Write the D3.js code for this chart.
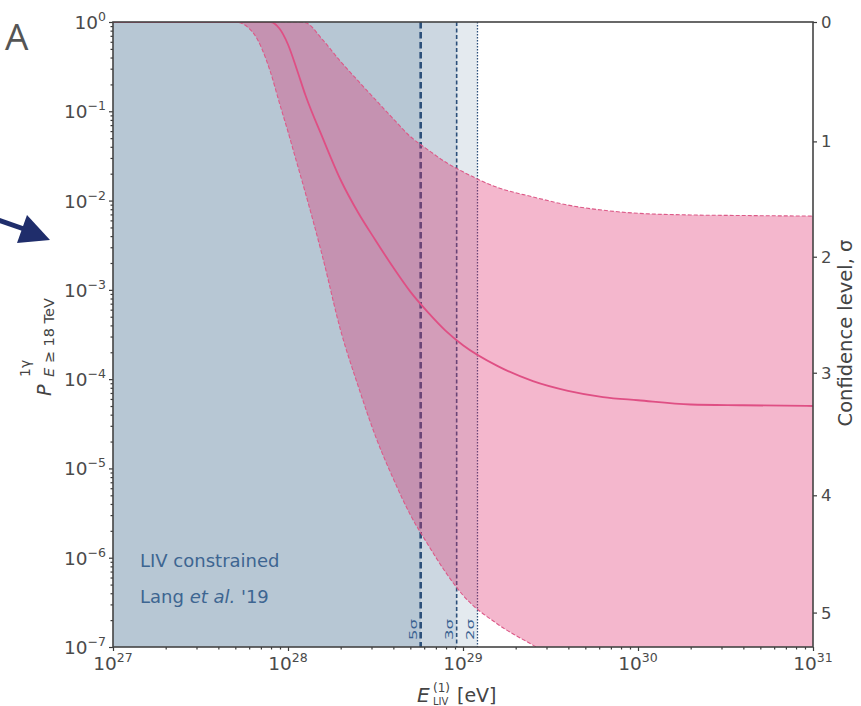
<!DOCTYPE html>
<html>
<head>
<meta charset="utf-8">
<script src="https://cdn.jsdelivr.net/npm/d3@7"></script>
<style>
  html, body { margin: 0; padding: 0; background: #fff; }
  svg { display: block; }
</style>
</head>
<body>
<svg id="chart" width="861" height="706"></svg>
<script>
// LIV break energy (eV) grid
const energy = [1e27, 3.16e27, 5.01e27, 6.31e27, 7.94e27, 8.91e27,
  1e28, 1.12e28, 1.26e28, 1.58e28, 2.0e28, 2.51e28, 3.16e28, 3.98e28, 5.01e28, 6.31e28, 7.94e28,
  1e29, 1.58e29, 2.51e29, 3.98e29, 6.31e29,
  1e30, 2.0e30, 3.98e30, 1e31];

// probability of one photon above 18 TeV: lower edge, median, upper edge
const pLower = [1, 1, 1, 0.76, 0.275, 0.126,
  0.059, 0.027, 0.012, 2.3e-3, 3.5e-4, 8.5e-5, 2.3e-5, 7.8e-6, 3.0e-6, 1.4e-6, 6.9e-7,
  3.8e-7, 1.8e-7, 1.05e-7, 6.3e-8, 4.0e-8,
  2.8e-8, 1.7e-8, 1.2e-8, 8e-9];
const pMedian = [1, 1, 1, 1, 1, 0.85,
  0.56, 0.30, 0.15, 0.050, 0.017, 7.4e-3, 3.6e-3, 1.8e-3, 9.5e-4, 5.6e-4, 3.5e-4,
  2.4e-4, 1.4e-4, 9.5e-5, 7.4e-5, 6.3e-5,
  5.8e-5, 5.2e-5, 5.1e-5, 5.0e-5];
const pUpper = [1, 1, 1, 1, 1, 1,
  1, 1, 0.98, 0.63, 0.36, 0.22, 0.135, 0.083, 0.052, 0.037, 0.027,
  0.021, 0.014, 0.011, 8.9e-3, 7.8e-3,
  7.2e-3, 6.9e-3, 6.8e-3, 6.7e-3];

// existing LIV limits (Lang et al. '19)
const limitLabels = ["5σ", "3σ", "2σ"];
const limitEnergy = [5.73e28, 9.2e28, 1.21e29];

// right axis: confidence level and matching probability
const sigmaLevels = [0, 1, 2, 3, 4, 5];
const sigmaProb = [1, 0.046, 2.35e-3, 1.18e-4, 5.0e-6, 2.43e-7];

// axis tick exponents
const xExponents = [27, 28, 29, 30, 31];
const yExponents = [0, -1, -2, -3, -4, -5, -6, -7];

const svg = d3.select("#chart");
const L = 113, R = 813, T = 22, B = 647;
const FONT = "DejaVu Sans";

const x = d3.scaleLog().domain([1e27, 1e31]).range([L, R]);
const y = d3.scaleLog().domain([1e-7, 1]).range([B, T]);

svg.append("defs").append("clipPath").attr("id", "plotclip")
  .append("rect").attr("x", L).attr("y", T).attr("width", R - L).attr("height", B - T);

const plot = svg.append("g").attr("clip-path", "url(#plotclip)");

// excluded regions, one translucent layer per limit
limitEnergy.forEach(e => {
  plot.append("rect")
    .attr("x", L).attr("y", T)
    .attr("width", x(e) - L).attr("height", B - T)
    .attr("fill", "#2c5985").attr("fill-opacity", 0.13);
});

// limit lines
const lineStyles = [
  { w: 2.6, dash: "6.5,3.5" },
  { w: 1.6, dash: "4,2.5" },
  { w: 1.3, dash: "1.5,1.5" }
];
limitEnergy.forEach((e, i) => {
  plot.append("line")
    .attr("x1", x(e)).attr("x2", x(e)).attr("y1", T).attr("y2", B)
    .attr("stroke", "#2b4f7a").attr("stroke-width", lineStyles[i].w)
    .attr("stroke-dasharray", lineStyles[i].dash);
});

const rows = energy.map((e, i) => ({ e, lo: pLower[i], med: pMedian[i], hi: pUpper[i] }));

// probability band
plot.append("path")
  .datum(rows)
  .attr("d", d3.area().curve(d3.curveMonotoneX)
    .x(d => x(d.e)).y0(d => y(d.lo)).y1(d => y(d.hi)))
  .attr("fill", "#e0306f").attr("fill-opacity", 0.35);

const edge = key => d3.line().curve(d3.curveMonotoneX).x(d => x(d.e)).y(d => y(d[key]));
["lo", "hi"].forEach(k => {
  plot.append("path").datum(rows).attr("d", edge(k))
    .attr("fill", "none").attr("stroke", "#dc5a88").attr("stroke-width", 1.1)
    .attr("stroke-dasharray", "4,2");
});
plot.append("path").datum(rows).attr("d", edge("med"))
  .attr("fill", "none").attr("stroke", "#df4f84").attr("stroke-width", 1.8);

// limit labels
limitEnergy.forEach((e, i) => {
  svg.append("text")
    .attr("transform", `translate(${x(e) - 3.5},${B - 7}) rotate(-90)`)
    .attr("font-family", FONT).attr("font-size", 10.5)
    .attr("textLength", 21).attr("lengthAdjust", "spacingAndGlyphs")
    .attr("fill", "#3a6291").text(limitLabels[i]);
});

// legend note
const note = svg.append("g").attr("font-family", FONT).attr("font-size", 18).attr("fill", "#3d6591");
note.append("text").attr("x", 140).attr("y", 567).text("LIV constrained");
const n2 = note.append("text").attr("x", 140).attr("y", 603);
n2.append("tspan").text("Lang ");
n2.append("tspan").attr("font-style", "italic").text("et al.");
n2.append("tspan").text(" '19");

// axes: ticks
const minorVals = (lo, hi) => {
  const out = [];
  for (let k = lo; k < hi; k++) for (let m = 2; m <= 9; m++) out.push(m * Math.pow(10, k));
  return out;
};
const axisColor = "#3a3a3a";
const styleAxis = g => {
  g.select(".domain").remove();
  g.selectAll(".tick line").attr("stroke", axisColor).attr("stroke-width", 1.2);
};
svg.append("g").attr("transform", `translate(0,${B})`)
  .call(d3.axisBottom(x).tickValues(xExponents.map(k => Math.pow(10, k))).tickSize(4).tickFormat(""))
  .call(styleAxis);
svg.append("g").attr("transform", `translate(0,${B})`)
  .call(d3.axisBottom(x).tickValues(minorVals(27, 31)).tickSize(2.5).tickFormat(""))
  .call(styleAxis);
svg.append("g").attr("transform", `translate(${L},0)`)
  .call(d3.axisLeft(y).tickValues(yExponents.map(k => Math.pow(10, k))).tickSize(4).tickFormat(""))
  .call(styleAxis);
svg.append("g").attr("transform", `translate(${L},0)`)
  .call(d3.axisLeft(y).tickValues(minorVals(-7, 0)).tickSize(2.5).tickFormat(""))
  .call(styleAxis);
svg.append("g").attr("transform", `translate(${R},0)`)
  .call(d3.axisRight(y).tickValues(sigmaProb).tickSize(4).tickFormat(""))
  .call(styleAxis);

// frame
svg.append("rect").attr("x", L).attr("y", T).attr("width", R - L).attr("height", B - T)
  .attr("fill", "none").attr("stroke", "#444").attr("stroke-width", 1.6);

// tick labels
const tickFill = "#4a4a4a";
const pow = (g, base, exp) => {
  g.append("tspan").text(base);
  g.append("tspan").attr("font-size", 12.5).attr("dy", -8).text(exp);
};
xExponents.forEach(k => {
  const t = svg.append("text").attr("x", x(Math.pow(10, k))).attr("y", 670)
    .attr("text-anchor", "middle").attr("font-family", FONT)
    .attr("font-size", 18.5).attr("fill", tickFill);
  pow(t, "10", String(k));
});
yExponents.forEach(k => {
  const t = svg.append("text").attr("x", 106).attr("y", y(Math.pow(10, k)) + 7)
    .attr("text-anchor", "end").attr("font-family", FONT)
    .attr("font-size", 18.5).attr("fill", tickFill);
  pow(t, "10", k === 0 ? "0" : "−" + (-k));
});
sigmaLevels.forEach((s, i) => {
  svg.append("text").attr("x", 821).attr("y", y(sigmaProb[i]) + 6)
    .attr("font-family", FONT).attr("font-size", 16.5).attr("fill", tickFill)
    .text(s);
});

// axis titles
const xt = svg.append("g").attr("font-family", FONT).attr("fill", "#444");
xt.append("text").attr("x", 417).attr("y", 702).attr("font-size", 20).attr("font-style", "italic").text("E");
xt.append("text").attr("x", 433).attr("y", 692).attr("font-size", 12).text("(1)");
xt.append("text").attr("x", 433).attr("y", 705).attr("font-size", 10).text("LIV");
xt.append("text").attr("x", 457).attr("y", 702).attr("font-size", 19).text("[eV]");

const yt = svg.append("g").attr("transform", "translate(51,396) rotate(-90)")
  .attr("font-family", FONT).attr("fill", "#444");
yt.append("text").attr("x", 0).attr("y", 0).attr("font-size", 19).attr("font-style", "italic").text("P");
yt.append("text").attr("x", 19).attr("y", -21).attr("font-size", 14).text("1γ");
const ys = yt.append("text").attr("x", 19).attr("y", 3).attr("font-size", 14.5);
ys.append("tspan").attr("font-style", "italic").text("E");
ys.append("tspan").text(" ≥ 18 TeV");

svg.append("text").attr("transform", "translate(852,333) rotate(-90)")
  .attr("text-anchor", "middle").attr("font-family", FONT)
  .attr("font-size", 19.5).attr("fill", "#444").text("Confidence level, σ");

// panel letter and pointer arrow
svg.append("text").attr("x", 5).attr("y", 50).attr("font-family", "Open Sans")
  .attr("font-size", 37).attr("fill", "#555").text("A");
svg.append("line").attr("x1", -2).attr("y1", 220).attr("x2", 24).attr("y2", 229)
  .attr("stroke", "#1f2d6b").attr("stroke-width", 5);
svg.append("path").attr("d", "M50,240 L27,215 L17,243 Z").attr("fill", "#1f2d6b");
</script>
</body>
</html>
